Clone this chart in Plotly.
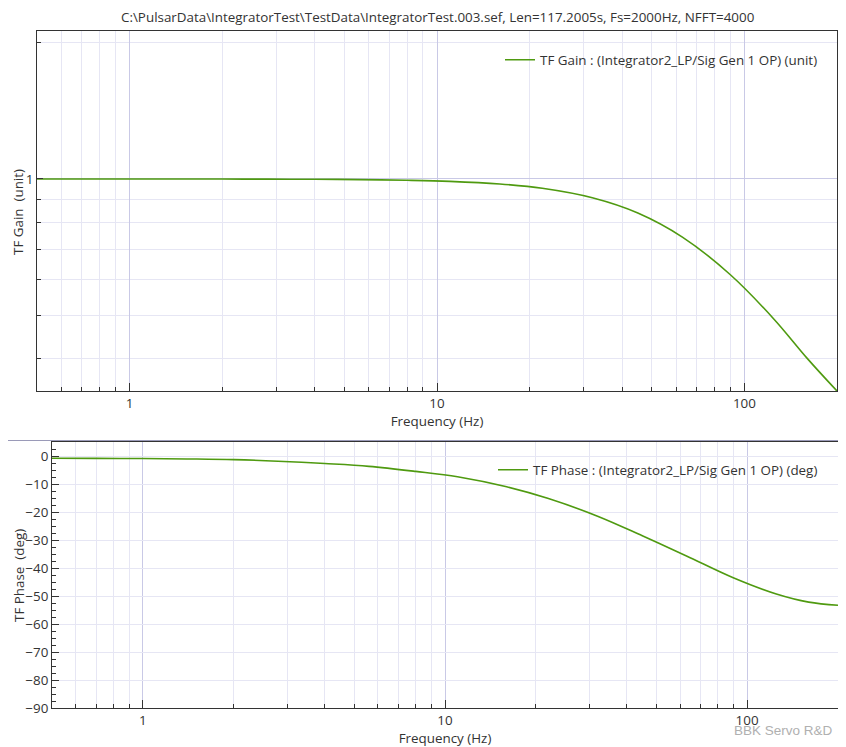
import plotly.graph_objects as go
import numpy as np

# ---- data ----
freq_hz = [0.5, 0.7, 1, 1.4, 2, 2.8, 4, 5.6, 8, 11, 16, 22, 32, 45, 63, 90, 125, 160, 200]
gain_unit = [1.0, 1.0, 0.9999, 0.9998, 0.9996, 0.9992, 0.9984, 0.9968, 0.9935, 0.988, 0.975,
             0.954, 0.909, 0.841, 0.743, 0.614, 0.489, 0.401, 0.3396]
phase_deg = [-0.8, -0.85, -0.9, -1.05, -1.3, -1.85, -2.7, -3.7, -5.5, -7.4, -11.0, -15.2,
             -21.5, -28.5, -35.7, -43.5, -49.3, -52.2, -53.3]

title_text = "C:\\PulsarData\\IntegratorTest\\TestData\\IntegratorTest.003.sef, Len=117.2005s, Fs=2000Hz, NFFT=4000"
gain_name = "TF Gain : (Integrator2_LP/Sig Gen 1 OP) (unit)"
phase_name = "TF Phase : (Integrator2_LP/Sig Gen 1 OP) (deg)"
x_major = [1, 10, 100]
x_minor = [0.5, 0.6, 0.7, 0.8, 0.9, 2, 3, 4, 5, 6, 7, 8, 9, 20, 30, 40, 50, 60, 70, 80, 90, 200]
gain_major = [1]
gain_minor = [0.4, 0.5, 0.6, 0.7, 0.8, 0.9, 2]
phase_ticks = [0, -10, -20, -30, -40, -50, -60, -70, -80, -90]

# the page has an 8px body margin: figure is drawn at (8,8) in the window
OFF = 8
W, H = 846 - OFF, 747 - OFF
FONT = "Open Sans"
FS = 13.4
LINE = "#4f9a10"
GRID_MAJ = "#c9c9e6"
GRID_MIN = "#e6e6f4"
AXC = "#333333"

def px(x):
    return (x - OFF) / W

def py(y):
    return 1 - (y - OFF) / H

fig = go.Figure()
fig.add_trace(go.Scatter(x=freq_hz, y=gain_unit, mode="lines", name=gain_name,
                         line=dict(color=LINE, width=1.6, shape="spline"),
                         xaxis="x", yaxis="y", legend="legend"))
fig.add_trace(go.Scatter(x=freq_hz, y=phase_deg, mode="lines", name=phase_name,
                         line=dict(color=LINE, width=1.6, shape="spline"),
                         xaxis="x2", yaxis="y2", legend="legend2"))

xcommon = dict(type="log", range=[np.log10(0.5), np.log10(200)], automargin=False,
               tickvals=x_major, ticktext=["1", "10", "100"],
               ticks="inside", ticklen=8, tickcolor=AXC, tickwidth=1,
               showline=True, linecolor=AXC, linewidth=1, mirror=True,
               showgrid=True, gridcolor=GRID_MAJ, gridwidth=1, zeroline=False,
               minor=dict(tickvals=x_minor, ticks="inside", ticklen=4, tickcolor=AXC,
                          showgrid=True, gridcolor=GRID_MIN, gridwidth=1),
               tickfont=dict(family=FONT, size=FS, color="#333"),
               title=dict(text="Frequency (Hz)", font=dict(family=FONT, size=FS, color="#333"), standoff=2))

ylab = dict(xref="paper", yref="paper", showarrow=False, textangle=-90,
            xanchor="center", yanchor="middle", font=dict(family=FONT, size=FS, color="#333"))

fig.update_layout(
    width=W, height=H,
    margin=dict(l=0, r=0, t=0, b=0, autoexpand=False),
    paper_bgcolor="white", plot_bgcolor="white",
    font=dict(family=FONT, size=FS, color="#333"),
    showlegend=True,
    xaxis=dict(domain=[px(37), px(837)], anchor="y", **xcommon),
    yaxis=dict(domain=[py(391), py(31)], anchor="x", type="log", automargin=False,
               range=[np.log10(0.3396), np.log10(2.125)],
               tickvals=gain_major, ticktext=["1"],
               ticks="inside", ticklen=6, tickcolor=AXC,
               showline=True, linecolor=AXC, linewidth=1, mirror=True,
               showgrid=True, gridcolor=GRID_MAJ, zeroline=False,
               minor=dict(tickvals=gain_minor, ticks="inside", ticklen=4, tickcolor=AXC,
                          showgrid=True, gridcolor=GRID_MIN),
               tickfont=dict(family=FONT, size=FS, color="#333")),
    xaxis2=dict(domain=[px(52), px(838)], anchor="y2", **xcommon),
    yaxis2=dict(domain=[py(708), py(442)], anchor="x2", automargin=False,
                range=[-90, 5], tickvals=phase_ticks,
                ticks="inside", ticklen=7, tickcolor=AXC,
                showline=True, linecolor=AXC, linewidth=1, mirror=True,
                showgrid=True, gridcolor=GRID_MIN, zeroline=False,
                minor=dict(dtick=2.5, ticks="inside", ticklen=4, tickcolor=AXC, showgrid=False),
                tickfont=dict(family=FONT, size=FS, color="#333")),
    legend=dict(x=px(823), y=py(60), xanchor="right", yanchor="middle",
                bgcolor="rgba(0,0,0,0)", borderwidth=0,
                font=dict(family=FONT, size=FS, color="#333")),
    legend2=dict(x=px(823), y=py(470), xanchor="right", yanchor="middle",
                 bgcolor="rgba(0,0,0,0)", borderwidth=0,
                 font=dict(family=FONT, size=FS, color="#333")),
    shapes=[dict(type="line", xref="paper", yref="paper", x0=0, x1=1,
                 y0=py(440.5), y1=py(440.5), line=dict(color="#9a9ab8", width=1))],
    annotations=[
        dict(text=title_text, xref="paper", yref="paper", x=px(437), y=py(17),
             xanchor="center", yanchor="middle", showarrow=False,
             font=dict(family=FONT, size=FS, color="#333")),
        dict(text="TF Gain  (unit)", x=px(18), y=py(212), **ylab),
        dict(text="TF Phase  (deg)", x=px(19), y=py(576), **ylab),
        dict(text="BBK Servo R&D", xref="paper", yref="paper",
             x=px(835), y=py(730), xanchor="right", yanchor="middle",
             showarrow=False, font=dict(family="Liberation Sans", size=13.5, color="#b0b0b0")),
    ],
)

fig.write_html("out.html")
